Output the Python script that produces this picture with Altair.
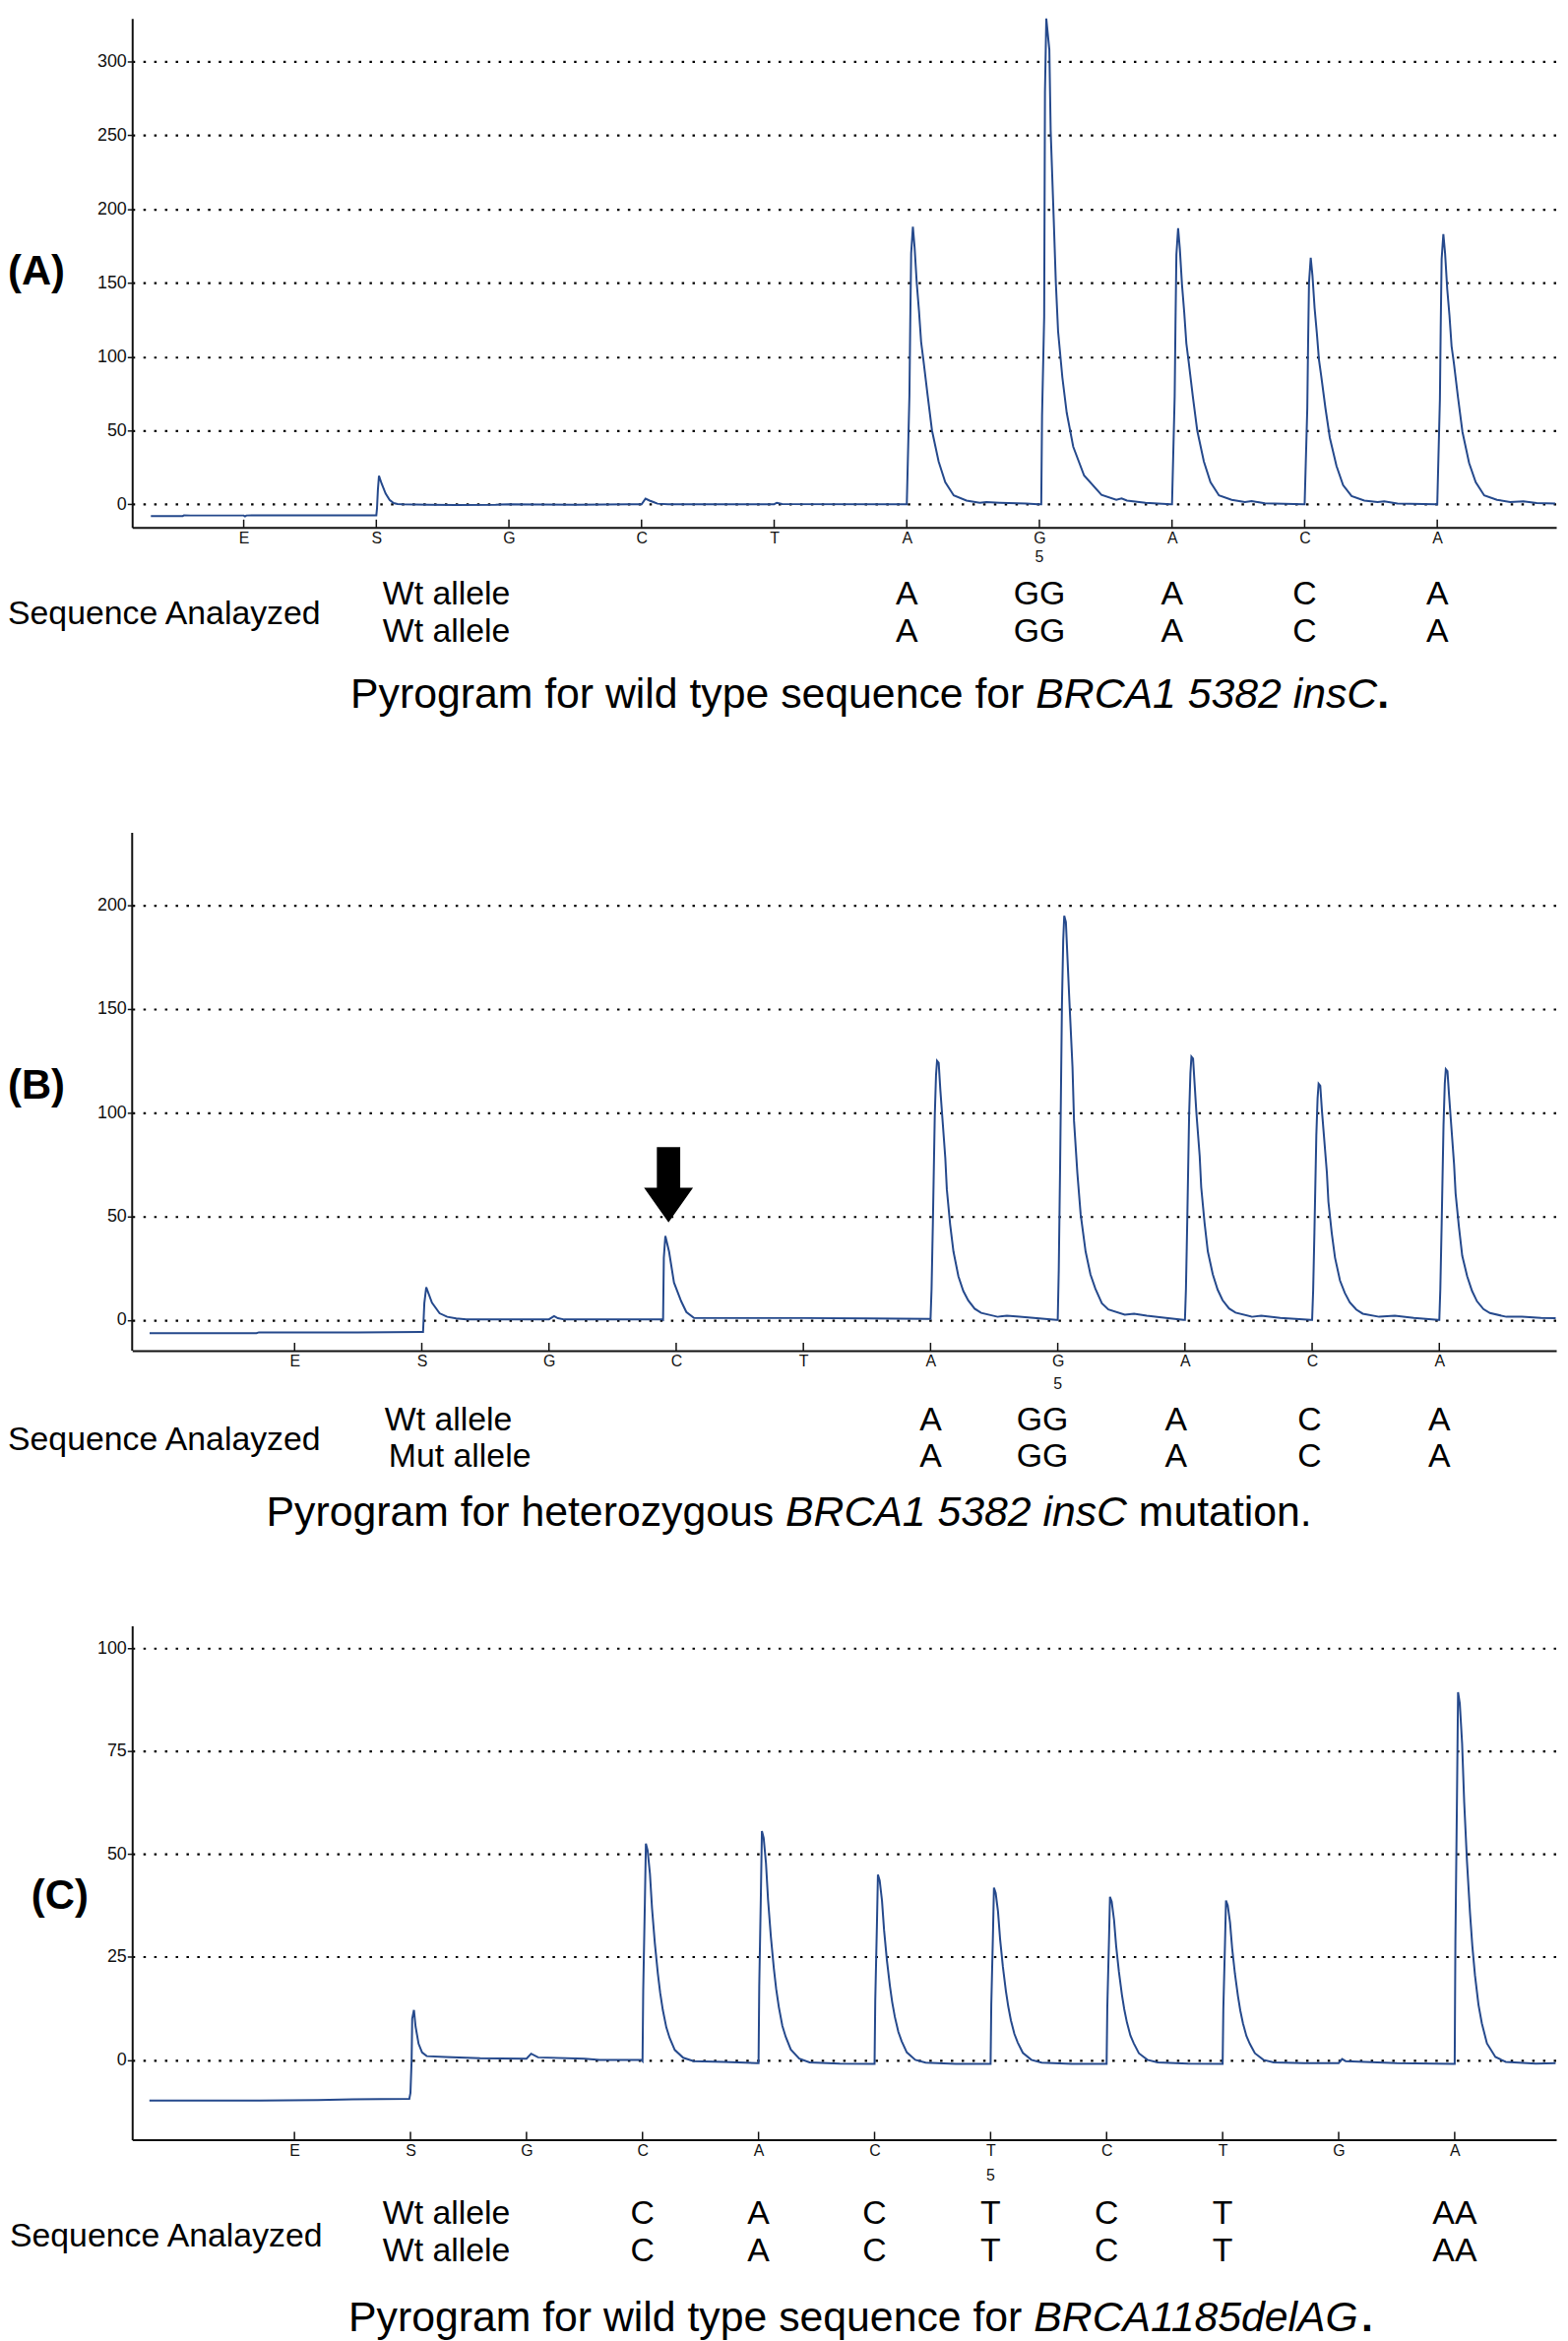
import altair as alt
import pandas as pd

FONT = "Liberation Sans"
TRACE = "#25498c"
INK = "#111111"

# ---------------- Panel A : wild type BRCA1 5382 insC ----------------
A_disp = ["E", "S", "G", "C", "T", "A", "G", "A", "C", "A"]
A_yticks = [0, 50, 100, 150, 200, 250, 300]
A_trace = [
    (-0.70, -8.0), (-0.46, -8.0), (-0.45, -7.5), (-0.40, -7.6), (0.0, -7.6), (0.01, -8.2), (0.02, -7.6), (1.0, -7.5),
    (1.005, -3), (1.012, 10), (1.02, 19.2), (1.04, 14), (1.07, 7.3), (1.1, 3), (1.13, 0.8), (1.16, 0.2), (1.2, 0),
    (1.4, -0.4), (1.6, -0.5), (1.9, -0.3), (2.0, 0), (2.5, -0.4), (2.9, 0), (3.0, 0),
    (3.03, 3.8), (3.06, 2.5), (3.09, 1.5), (3.12, 0.4), (3.2, 0), (4.0, 0), (4.02, 1.0), (4.06, 0.2), (4.99, 0),
    (5.0, 0), (5.02, 74), (5.026, 122), (5.033, 170), (5.046, 188), (5.059, 174), (5.075, 150), (5.092, 131),
    (5.108, 110), (5.125, 98), (5.157, 74), (5.19, 50), (5.24, 29), (5.29, 15), (5.354, 6), (5.45, 2.5),
    (5.55, 1), (5.6, 1.5), (5.7, 1), (5.9, 0.5), (5.99, 0),
    (6.014, 0), (6.02, 60), (6.036, 127), (6.042, 279), (6.052, 329), (6.075, 308), (6.085, 253), (6.108, 193),
    (6.124, 150), (6.141, 117), (6.173, 86), (6.206, 62), (6.255, 39), (6.337, 19.5), (6.468, 6.4), (6.58, 3),
    (6.62, 4), (6.66, 2.5), (6.8, 1), (6.99, 0),
    (7.0, 0), (7.02, 73), (7.026, 121), (7.033, 169), (7.046, 187), (7.059, 173), (7.075, 149), (7.092, 130),
    (7.108, 109), (7.125, 97), (7.157, 73), (7.19, 50), (7.24, 29), (7.29, 15), (7.354, 6), (7.45, 3),
    (7.55, 1.5), (7.6, 2.2), (7.7, 0.6), (7.99, 0),
    (8.0, 0), (8.02, 65), (8.026, 108), (8.033, 150), (8.046, 167), (8.059, 155), (8.075, 133), (8.092, 116),
    (8.108, 98), (8.125, 87), (8.157, 65), (8.19, 45), (8.24, 26), (8.29, 13), (8.354, 5.5), (8.45, 2.5),
    (8.55, 1.5), (8.6, 2), (8.7, 0.5), (8.99, 0),
    (9.0, 0), (9.02, 71), (9.026, 119), (9.033, 166), (9.046, 183), (9.059, 170), (9.075, 146), (9.092, 128),
    (9.108, 107), (9.125, 96), (9.157, 72), (9.19, 49), (9.24, 28), (9.29, 15), (9.354, 6), (9.45, 3),
    (9.55, 1.5), (9.65, 2), (9.75, 0.8), (9.89, 0.5),
]
A_calls = ["A", "GG", "A", "C", "A"]
A_call_x = [5, 6, 7, 8, 9]
A_rows = ["Wt allele", "Wt allele"]
A_caption = [("Pyrogram for wild type sequence for ", "normal"), ("BRCA1 5382 insC", "italic"), (".", "bold")]

# ---------------- Panel B : heterozygous BRCA1 5382 insC ----------------
B_disp = ["E", "S", "G", "C", "T", "A", "G", "A", "C", "A"]
B_yticks = [0, 50, 100, 150, 200]
B_trace = [
    (-1.14, -6.4), (-0.3, -6.4), (-0.28, -6.0), (0.5, -6.0), (1.0, -5.8),
    (1.01, -5.8), (1.02, 8), (1.035, 15.7), (1.08, 8.3), (1.14, 3.2), (1.2, 1.5), (1.27, 0.7), (1.35, 0.3),
    (2.0, 0.3), (2.04, 1.8), (2.07, 0.8), (2.12, 0.2), (2.89, 0.2),
    (2.897, 0), (2.903, 30), (2.915, 40.5), (2.944, 33), (2.983, 18), (3.04, 8.9), (3.08, 3.8), (3.14, 0.9),
    (4.0, 0.9), (4.5, 0.7), (4.99, 0.5),
    (5.0, 0.5), (5.008, 15), (5.018, 46), (5.033, 98), (5.043, 118), (5.051, 125), (5.064, 124), (5.077, 111),
    (5.09, 100), (5.116, 78), (5.128, 63), (5.154, 46), (5.18, 33), (5.219, 21), (5.257, 14), (5.296, 9.4),
    (5.347, 5.4), (5.398, 3.4), (5.527, 1.5), (5.6, 2), (5.7, 1.5), (5.9, 0.5), (5.99, 0),
    (6.0, 0), (6.008, 24), (6.018, 71), (6.033, 152), (6.043, 183), (6.051, 195), (6.064, 192), (6.077, 174),
    (6.09, 156), (6.116, 122), (6.128, 96), (6.154, 71), (6.18, 51), (6.219, 33), (6.257, 22), (6.296, 15),
    (6.347, 8), (6.398, 5), (6.527, 2.5), (6.6, 3), (6.7, 2), (6.85, 1), (6.99, 0),
    (7.0, 0), (7.008, 15), (7.018, 47), (7.033, 99), (7.043, 119), (7.051, 127), (7.064, 126), (7.077, 113),
    (7.09, 100), (7.116, 79), (7.128, 64), (7.154, 47), (7.18, 33), (7.219, 22), (7.257, 14.6), (7.296, 9.5),
    (7.347, 5.5), (7.398, 3.5), (7.527, 1.5), (7.6, 2), (7.75, 1), (7.99, 0),
    (8.0, 0), (8.008, 14), (8.018, 42), (8.033, 89), (8.043, 107), (8.051, 114), (8.064, 113), (8.077, 101),
    (8.09, 91), (8.116, 71), (8.128, 57), (8.154, 42), (8.18, 30), (8.219, 19), (8.257, 13), (8.296, 8.5),
    (8.347, 5), (8.398, 3), (8.527, 1.5), (8.65, 2), (8.8, 1), (8.99, 0),
    (9.0, 0), (9.008, 15), (9.018, 45), (9.033, 94), (9.043, 114), (9.051, 121), (9.064, 120), (9.077, 108),
    (9.09, 97), (9.116, 75), (9.128, 61), (9.154, 45), (9.18, 31), (9.219, 21), (9.257, 14), (9.296, 9),
    (9.347, 5.2), (9.398, 3.3), (9.527, 1.5), (9.65, 1.5), (9.8, 1), (9.915, 0.8),
]
B_calls = ["A", "GG", "A", "C", "A"]
B_call_x = [5.0, 5.88, 6.93, 7.98, 9.0]
B_rows = ["Wt allele", "Mut allele"]
B_caption = [("Pyrogram for heterozygous ", "normal"), ("BRCA1 5382 insC", "italic"), ("mutation.", "normal")]
B_arrow = (2.94, 65.2)

# ---------------- Panel C : wild type BRCA1185delAG ----------------
C_disp = ["E", "S", "G", "C", "A", "C", "T", "C", "T", "G", "A"]
C_yticks = [0, 25, 50, 75, 100]
C_trace = [
    (-1.25, -9.9), (-0.3, -9.9), (0.2, -9.8), (0.5, -9.6), (0.99, -9.5),
    (1.0, -8), (1.01, 0), (1.015, 10), (1.03, 12.1), (1.044, 8.1), (1.07, 3.9), (1.1, 1.8), (1.14, 0.9),
    (1.3, 0.7), (1.6, 0.4), (2.0, 0.3), (2.04, 1.5), (2.1, 0.6), (2.5, 0.3), (2.63, 0), (2.99, 0),
    (3.0, -0.3), (3.006, 16.8), (3.02, 37.8), (3.029, 52.5), (3.044, 50.9), (3.064, 45.2), (3.082, 36.8),
    (3.106, 28.4), (3.132, 21), (3.152, 16.3), (3.175, 12.1), (3.205, 7.9), (3.234, 5.3), (3.278, 2.4),
    (3.351, 0.5), (3.44, -0.3), (3.7, -0.5), (3.99, -0.8),
    (4.0, -0.8), (4.006, 17.8), (4.02, 40), (4.029, 55.6), (4.044, 53.9), (4.064, 47.8), (4.082, 38.9),
    (4.106, 30), (4.132, 22.2), (4.152, 17.2), (4.175, 12.8), (4.205, 8.3), (4.234, 5.6), (4.278, 2.5),
    (4.351, 0.3), (4.44, -0.6), (4.7, -0.9), (4.99, -1),
    (5.0, -1), (5.006, 14.4), (5.02, 32.4), (5.029, 45), (5.044, 43.6), (5.064, 38.7), (5.082, 31.5),
    (5.106, 24.3), (5.132, 18), (5.152, 14), (5.175, 10.4), (5.205, 6.8), (5.234, 4.5), (5.278, 1.8),
    (5.351, 0), (5.44, -0.7), (5.7, -1), (5.99, -1),
    (6.0, -1), (6.006, 13.4), (6.02, 30), (6.029, 41.8), (6.044, 40.5), (6.064, 36), (6.082, 29.3),
    (6.106, 22.6), (6.132, 16.7), (6.152, 13), (6.175, 9.6), (6.205, 6.3), (6.234, 4.2), (6.278, 1.7),
    (6.351, 0), (6.44, -0.7), (6.7, -1), (6.99, -1),
    (7.0, -1), (7.006, 12.7), (7.02, 28.5), (7.029, 39.6), (7.044, 38.4), (7.064, 34), (7.082, 27.7),
    (7.106, 21.4), (7.132, 15.8), (7.152, 12.3), (7.175, 9.1), (7.205, 5.9), (7.234, 4), (7.278, 1.6),
    (7.351, 0), (7.44, -0.6), (7.7, -0.9), (7.99, -1),
    (8.0, -1), (8.006, 12.4), (8.02, 27.9), (8.029, 38.7), (8.044, 37.5), (8.064, 33.3), (8.082, 27.1),
    (8.106, 20.9), (8.132, 15.5), (8.152, 12), (8.175, 8.9), (8.205, 5.8), (8.234, 3.9), (8.278, 1.6),
    (8.351, 0), (8.44, -0.6), (8.7, -0.8), (9.0, -0.8), (9.03, 0.2), (9.06, -0.3), (9.5, -0.8), (9.99, -1),
    (10.0, -1), (10.006, 28.6), (10.02, 64.3), (10.029, 89.3), (10.044, 86.6), (10.064, 76.8), (10.082, 62.5),
    (10.106, 48.2), (10.132, 35.7), (10.152, 27.7), (10.175, 20.5), (10.205, 13.4), (10.234, 8.9),
    (10.278, 4), (10.351, 0.7), (10.44, -0.5), (10.7, -0.9), (10.87, -0.8),
]
C_calls = ["C", "A", "C", "T", "C", "T", "AA"]
C_call_x = [3, 4, 5, 6, 7, 8, 10]
C_rows = ["Wt allele", "Wt allele"]
C_caption = [("Pyrogram for wild type sequence for ", "normal"), ("BRCA1185delAG", "italic"), (".", "bold")]

ARROW = "M-0.31,-1 L0.31,-1 L0.31,0.08 L0.65,0.08 L0,1 L-0.65,0.08 L-0.31,0.08 Z"
W = 1455


def panel(trace, disp, yticks, xdom, ydom, H, calls, call_x, rows, geo, caption, label, arrow=None, axis_top=None):
    xs = alt.Scale(domain=xdom, nice=False, zero=False)
    ys = alt.Scale(domain=ydom, nice=False, zero=False)
    labels = "[" + ",".join("'%s'" % d for d in disp) + "][datum.value]"
    xaxis = alt.Axis(values=list(range(len(disp))), labelExpr=labels, tickSize=0, grid=False, title=None,
                     domainColor=INK, domainWidth=2, labelFontSize=16, labelFont=FONT, labelColor=INK,
                     labelPadding=3, labelFlush=False, labelOverlap=False)
    yaxis = alt.Axis(values=yticks, title=None, grid=True, gridDash=[2.5, 8.5], gridColor="#000", gridWidth=2.2,
                     tickSize=5, tickColor=INK, tickWidth=1.5, domain=axis_top is None, domainColor=INK,
                     domainWidth=2, labelFontSize=18, labelPadding=1, labelFont=FONT, labelColor=INK,
                     labelFlush=False)

    def X(field="x"):
        return alt.X(field + ":Q", scale=xs, axis=xaxis)

    layers = []
    line = alt.Chart(pd.DataFrame(trace, columns=["x", "y"])).mark_line(
        color=TRACE, strokeWidth=2, interpolate="linear").encode(
        x=X(), y=alt.Y("y:Q", scale=ys, axis=yaxis))
    layers.append(line)

    ticks = alt.Chart(pd.DataFrame({"x": list(range(len(disp)))})).mark_rule(color=INK, strokeWidth=1.5).encode(
        x=X(), y=alt.value(H), y2=alt.value(H - 8))
    layers.append(ticks)

    if axis_top is not None:
        layers.append(alt.Chart(pd.DataFrame({"a": [0]})).mark_rule(color=INK, strokeWidth=2).encode(
            x=alt.value(0), y=alt.value(axis_top), y2=alt.value(H)))

    five = alt.Chart(pd.DataFrame({"x": [geo["five_x"]], "t": ["5"]})).mark_text(
        fontSize=16, font=FONT, color=INK, baseline="middle").encode(
        x=X(), y=alt.value(geo["five_y"]), text="t:N")
    layers.append(five)

    call_df = pd.DataFrame(
        [{"x": cx, "py": geo["row_y"][r], "t": c} for r in range(2) for c, cx in zip(calls, call_x)])
    layers.append(alt.Chart(call_df).mark_text(fontSize=34, font=FONT, color="#000", baseline="middle").encode(
        x=X(), y=alt.Y("py:Q", scale=None, axis=None), text="t:N"))

    static = [{"px": geo["seq_x"], "py": geo["seq_y"], "t": "Sequence Analayzed"}]
    for r in range(2):
        static.append({"px": geo["row_x"][r], "py": geo["row_y"][r], "t": rows[r]})
    layers.append(alt.Chart(pd.DataFrame(static)).mark_text(
        fontSize=34, font=FONT, color="#000", align="left", baseline="middle").encode(
        x=alt.X("px:Q", scale=None, axis=None), y=alt.Y("py:Q", scale=None, axis=None), text="t:N"))

    for (txt, style), cx in zip(caption, geo["cap_x"]):
        kw = {}
        if style == "italic":
            kw["fontStyle"] = "italic"
        if style == "bold":
            kw["fontWeight"] = "bold"
        layers.append(alt.Chart(pd.DataFrame({"px": [cx], "py": [geo["cap_y"]], "t": [txt]})).mark_text(
            fontSize=43, font=FONT, color="#000", align="left", baseline="middle", **kw).encode(
            x=alt.X("px:Q", scale=None, axis=None), y=alt.Y("py:Q", scale=None, axis=None), text="t:N"))

    layers.append(alt.Chart(pd.DataFrame({"px": [geo["lab_x"]], "py": [geo["lab_y"]], "t": [label]})).mark_text(
        fontSize=42, font=FONT, fontWeight="bold", color="#000", align="left", baseline="middle").encode(
        x=alt.X("px:Q", scale=None, axis=None), y=alt.Y("py:Q", scale=None, axis=None), text="t:N"))

    if arrow is not None:
        layers.append(alt.Chart(pd.DataFrame({"x": [arrow[0]], "y": [arrow[1]]})).mark_point(
            shape=ARROW, size=5929, filled=True, color="#000", opacity=1).encode(
            x=X(), y=alt.Y("y:Q", scale=ys, axis=yaxis)))

    return alt.layer(*layers).properties(width=W, height=H)


pA = panel(A_trace, A_disp, A_yticks, [-0.841, 9.897], [-15.7, 329.1], 520, A_calls, A_call_x, A_rows,
           dict(five_x=6, five_y=550, row_y=[589, 627], row_x=[256, 256], seq_x=-127, seq_y=609,
                cap_x=[223, 923.2, 1272.1], cap_y=691, lab_x=-127, lab_y=259),
           A_caption, "(A)")
pB = panel(B_trace, B_disp, B_yticks, [-1.277, 9.919], [-14.83, 249.64], 560, B_calls, B_call_x, B_rows,
           dict(five_x=6, five_y=594, row_y=[631, 669], row_x=[258, 262], seq_x=-127, seq_y=652,
                cap_x=[137, 667.5, 1028.4], cap_y=726, lab_x=-127, lab_y=290),
           B_caption, "(B)", arrow=B_arrow, axis_top=31)
pC = panel(C_trace, C_disp, C_yticks, [-1.3986, 10.875], [-19.38, 105.47], 525, C_calls, C_call_x, C_rows,
           dict(five_x=6, five_y=562, row_y=[601, 639], row_x=[256, 256], seq_x=-125, seq_y=624,
                cap_x=[221, 921.2, 1255.8], cap_y=708, lab_x=-103, lab_y=276),
           C_caption, "(C)")

chart = alt.vconcat(pA, pB, pC, spacing=281, bounds="flush").properties(padding=0).configure_view(stroke=None)
chart.save("out.html", embed_options={"renderer": "svg", "actions": False})
